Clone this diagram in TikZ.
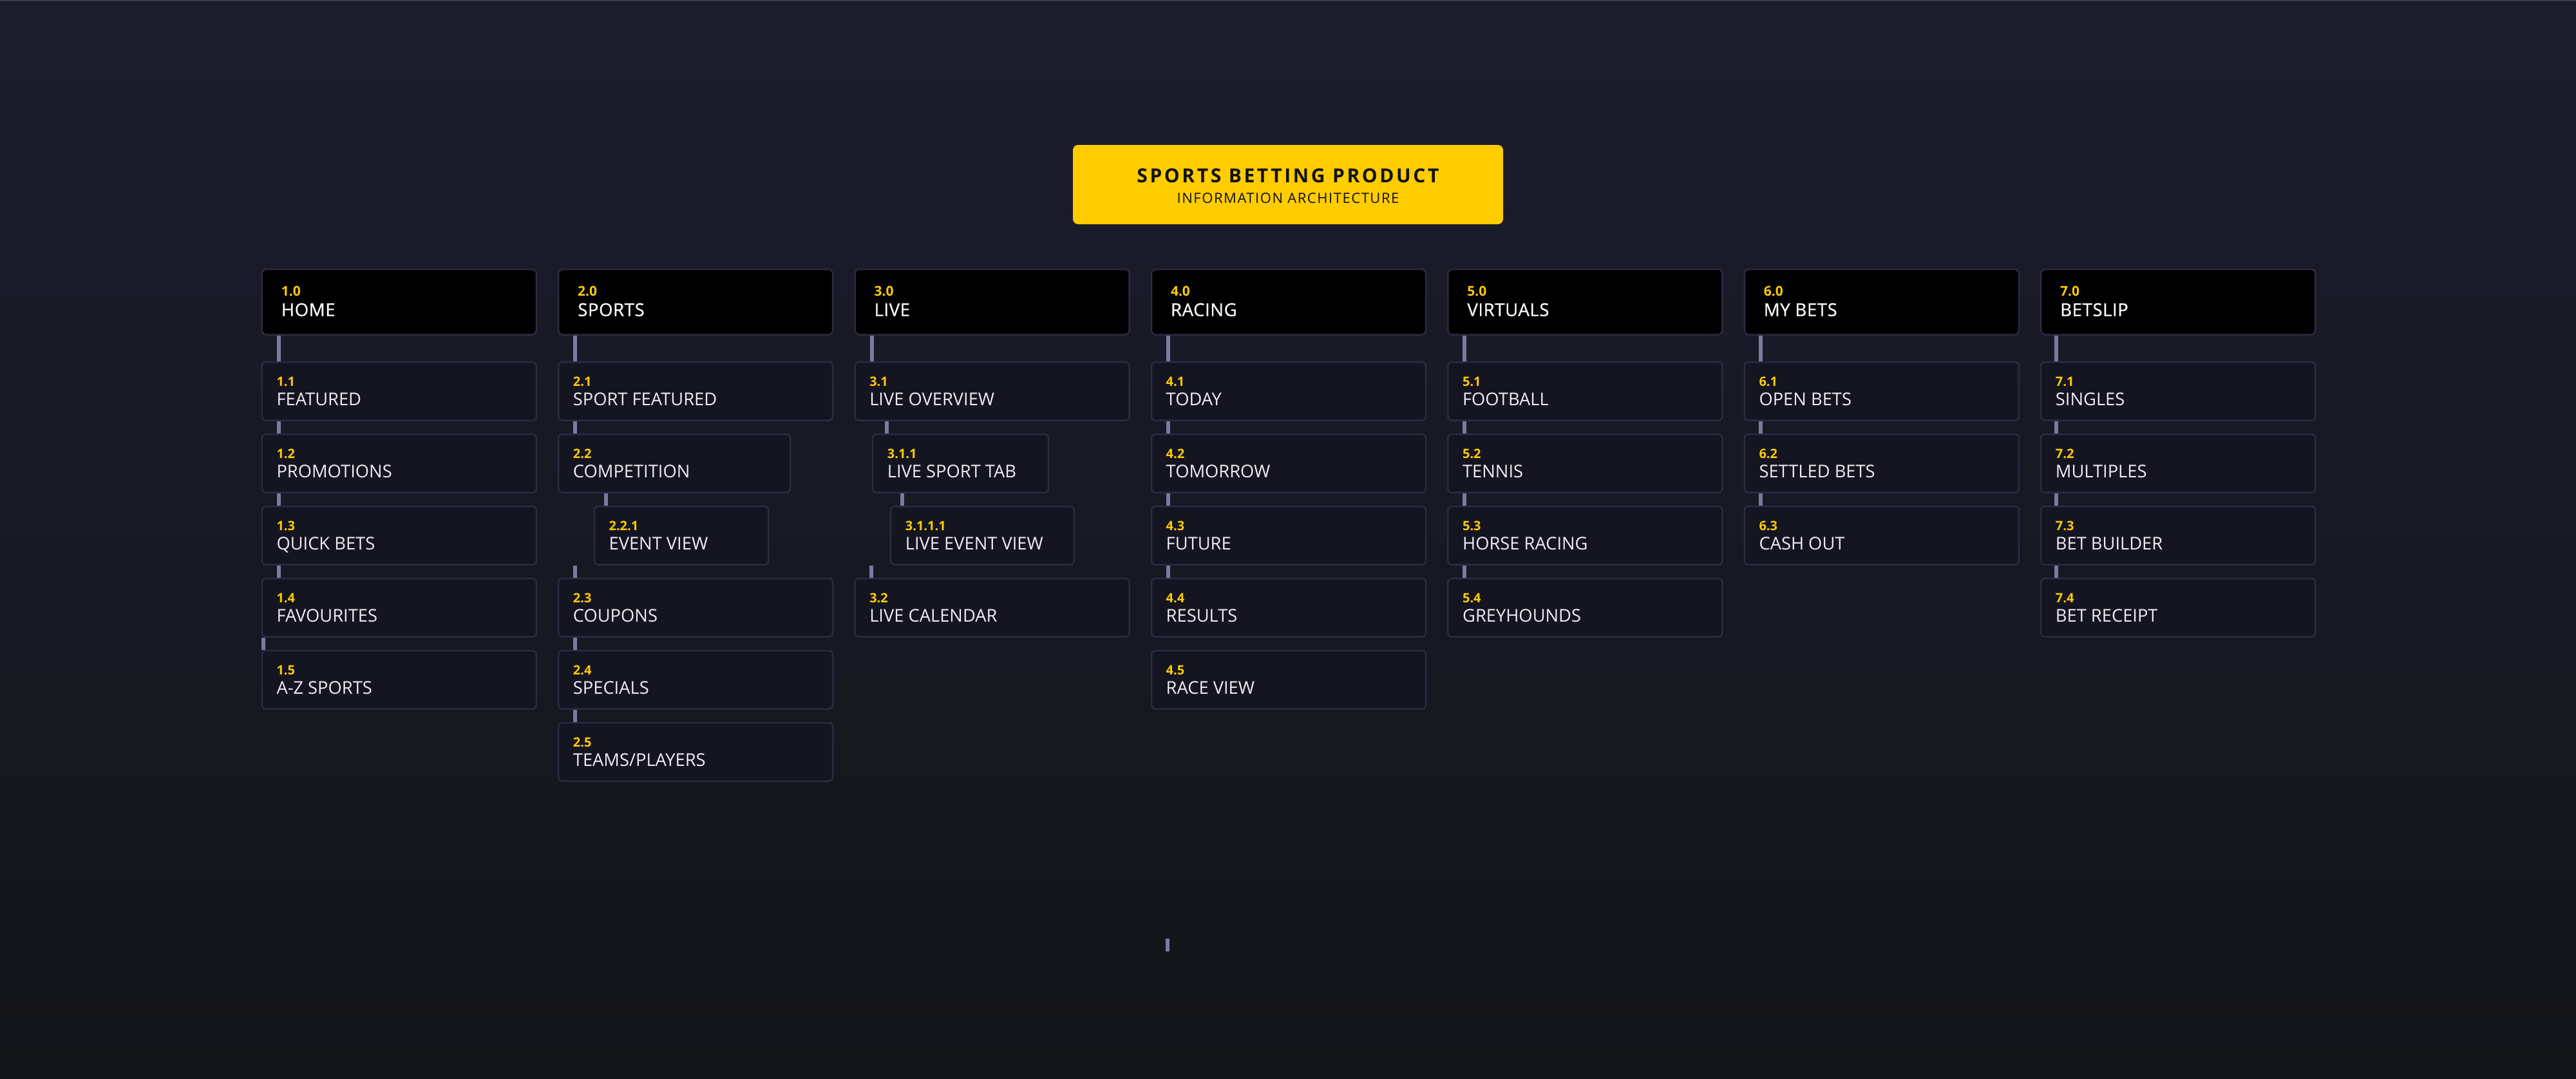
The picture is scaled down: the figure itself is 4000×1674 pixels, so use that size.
\documentclass[tikz,border=0pt]{standalone}
\usepackage{fontspec}
\setmainfont{Open Sans}
\usetikzlibrary{calc}
\definecolor{bgtop}{HTML}{1C1C2D}
\definecolor{bgbot}{HTML}{141519}
\definecolor{hdrfill}{HTML}{000000}
\definecolor{boxfill}{HTML}{151522}
\definecolor{boxline}{HTML}{2B2B42}
\definecolor{connc}{HTML}{7B7B9F}
\definecolor{numc}{HTML}{FFCC00}
\definecolor{lblc}{HTML}{EDEDF2}
\definecolor{titlefill}{HTML}{FFCC00}
\definecolor{titletext}{HTML}{111111}
\definecolor{topline}{HTML}{3A3A48}
\tikzset{
 hdrbox/.style={draw=boxline, fill=hdrfill, line width=2.5pt, rounded corners=7pt, minimum width=426pt, minimum height=101.5pt, inner sep=0pt, outer sep=0pt, anchor=north west},
 subbox/.style={draw=boxline, fill=boxfill, line width=2.5pt, rounded corners=6pt, minimum height=90.5pt, inner sep=0pt, outer sep=0pt, anchor=north west},
 numtxt/.style={anchor=base west, inner sep=0pt, text=numc, font=\fontsize{20}{24}\selectfont\bfseries},
 hnumtxt/.style={numtxt, font=\fontsize{21}{25}\selectfont\bfseries},
 lbltxt/.style={anchor=base west, inner sep=0pt, text=lblc, font=\fontsize{27.3}{32}\selectfont},
 hlbltxt/.style={lbltxt, text=white, font=\fontsize{27.6}{32}\selectfont\addfontfeatures{FakeBold=0.5,LetterSpace=2}},
 conn/.style={draw=connc, line width=6pt, shorten <=1.25pt, shorten >=1.25pt},
 titlebox/.style={fill=titlefill, rounded corners=8pt, minimum width=668pt, minimum height=123pt, inner sep=0pt, outer sep=0pt, anchor=north west},
 titletxt/.style={anchor=base, inner sep=0pt, text=titletext, font=\fontsize{30}{36}\selectfont\bfseries\addfontfeatures{LetterSpace=12}},
 subtitletxt/.style={anchor=base, inner sep=0pt, text=titletext, font=\fontsize{22}{26}\selectfont\addfontfeatures{LetterSpace=7}},
}
\newcommand\hdrnode[4]{%
 \node[hdrbox] (#1) at (#2,418) {};
 \node[hnumtxt] (#1-n) at ($(#1.north west)+(29.8,41.3)$) {#3};
 \node[hlbltxt] (#1-l) at ($(#1.north west)+(29.8,72.7)$) {#4};
}
\newcommand\subnode[6]{%
 \node[subbox, minimum width=#4pt] (#1) at (#2,#3) {};
 \node[numtxt] (#1-n) at ($(#1.north west)+(22.5,37)$) {#5};
 \node[lbltxt] (#1-l) at ($(#1.north west)+(22.5,67.3)$) {#6};
}
\newcommand\linkbox[3]{%
 \draw[conn] ([xshift=#3pt]#1.south west) -- ([xshift=#3pt]#1.south west |- #2.north);
}
\begin{document}
\begin{tikzpicture}[x=1pt,y=-1pt]
\useasboundingbox (0,0) rectangle (4000,1674);
\shade[top color=bgtop, bottom color=bgbot] (0,0) rectangle (4000,1674);
\fill[topline] (0,0) rectangle (4000,2);
% title
\node[titlebox] (title) at (1666,225) {};
\node[titletxt] (title-main) at ($(title.north)+(0,58.3)$) {SPORTS BETTING PRODUCT};
\node[subtitletxt] (title-sub) at ($(title.north)+(0,90)$) {INFORMATION ARCHITECTURE};
% column 1
\hdrnode{h1}{406.8}{1.0}{HOME}
\subnode{s11}{406.8}{562}{426}{1.1}{FEATURED}
\subnode{s12}{406.8}{674}{426}{1.2}{PROMOTIONS}
\subnode{s13}{406.8}{786}{426}{1.3}{QUICK BETS}
\subnode{s14}{406.8}{898}{426}{1.4}{FAVOURITES}
\subnode{s15}{406.8}{1010}{426}{1.5}{A-Z SPORTS}
\linkbox{h1}{s11}{26.5}
\linkbox{s11}{s12}{26.5}
\linkbox{s12}{s13}{26.5}
\linkbox{s13}{s14}{26.5}
\linkbox{s14}{s15}{2}
% column 2
\hdrnode{h2}{867.2}{2.0}{SPORTS}
\subnode{s21}{867.2}{562}{426}{2.1}{SPORT FEATURED}
\subnode{s22}{867.2}{674}{360}{2.2}{COMPETITION}
\subnode{s221}{922.9}{786}{270.4}{2.2.1}{EVENT VIEW}
\subnode{s23}{867.2}{898}{426}{2.3}{COUPONS}
\subnode{s24}{867.2}{1010}{426}{2.4}{SPECIALS}
\subnode{s25}{867.2}{1122}{426}{2.5}{TEAMS/PLAYERS}
\linkbox{h2}{s21}{26}
\linkbox{s21}{s22}{26}
\linkbox{s22}{s221}{73.5}
\linkbox{s221}{s23}{-29.9}
\linkbox{s23}{s24}{26}
\linkbox{s24}{s25}{26}
% column 3
\hdrnode{h3}{1327.6}{3.0}{LIVE}
\subnode{s31}{1327.6}{562}{426}{3.1}{LIVE OVERVIEW}
\subnode{s311}{1355.2}{674}{273}{3.1.1}{LIVE SPORT TAB}
\subnode{s3111}{1383.2}{786}{284.7}{3.1.1.1}{LIVE EVENT VIEW}
\subnode{s32}{1327.6}{898}{426}{3.2}{LIVE CALENDAR}
\linkbox{h3}{s31}{26}
\linkbox{s31}{s311}{49.4}
\linkbox{s311}{s3111}{45.8}
\linkbox{s3111}{s32}{-30.2}
% column 4
\hdrnode{h4}{1788}{4.0}{RACING}
\subnode{s41}{1788}{562}{426}{4.1}{TODAY}
\subnode{s42}{1788}{674}{426}{4.2}{TOMORROW}
\subnode{s43}{1788}{786}{426}{4.3}{FUTURE}
\subnode{s44}{1788}{898}{426}{4.4}{RESULTS}
\subnode{s45}{1788}{1010}{426}{4.5}{RACE VIEW}
\linkbox{h4}{s41}{26}
\linkbox{s41}{s42}{26}
\linkbox{s42}{s43}{26}
\linkbox{s43}{s44}{26}
\coordinate (stray-a) at (1813,1457);
\coordinate (stray-b) at (1813,1477);
\draw[conn, shorten <=0pt, shorten >=0pt] (stray-a) -- (stray-b);
% column 5
\hdrnode{h5}{2248.4}{5.0}{VIRTUALS}
\subnode{s51}{2248.4}{562}{426}{5.1}{FOOTBALL}
\subnode{s52}{2248.4}{674}{426}{5.2}{TENNIS}
\subnode{s53}{2248.4}{786}{426}{5.3}{HORSE RACING}
\subnode{s54}{2248.4}{898}{426}{5.4}{GREYHOUNDS}
\linkbox{h5}{s51}{25.5}
\linkbox{s51}{s52}{25.5}
\linkbox{s52}{s53}{25.5}
\linkbox{s53}{s54}{25.5}
% column 6
\hdrnode{h6}{2708.8}{6.0}{MY BETS}
\subnode{s61}{2708.8}{562}{426}{6.1}{OPEN BETS}
\subnode{s62}{2708.8}{674}{426}{6.2}{SETTLED BETS}
\subnode{s63}{2708.8}{786}{426}{6.3}{CASH OUT}
\linkbox{h6}{s61}{25.5}
\linkbox{s61}{s62}{25.5}
\linkbox{s62}{s63}{25.5}
% column 7
\hdrnode{h7}{3169.2}{7.0}{BETSLIP}
\subnode{s71}{3169.2}{562}{426}{7.1}{SINGLES}
\subnode{s72}{3169.2}{674}{426}{7.2}{MULTIPLES}
\subnode{s73}{3169.2}{786}{426}{7.3}{BET BUILDER}
\subnode{s74}{3169.2}{898}{426}{7.4}{BET RECEIPT}
\linkbox{h7}{s71}{24}
\linkbox{s71}{s72}{24}
\linkbox{s72}{s73}{24}
\linkbox{s73}{s74}{24}
\end{tikzpicture}
\end{document}
